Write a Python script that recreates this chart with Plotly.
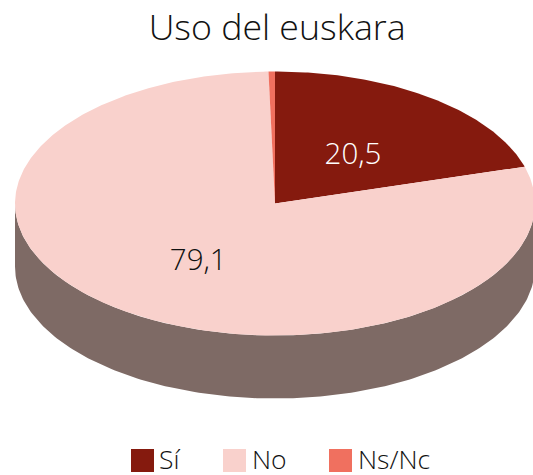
import numpy as np
import plotly.graph_objects as go

title = "Uso del euskara"
categories = ["Sí", "No", "Ns/Nc"]
values = [20.5, 79.1, 0.4]
labels = ["20,5", "79,1", None]
colors = ["#851A0E", "#F9D1CC", "#F0705F"]
wall_color = "#7E6A65"
FONT = "Open Sans"
INK = "#111111"

W, H = 533, 475
# one axis unit is one pixel; the pie is a tilted circle
cx, cy, rx, ry, depth = 275, 271.5, 260, 132, 63

fig = go.Figure()

# side wall
t = np.linspace(np.pi / 2, 3 * np.pi / 2, 181)
xs = np.sin(t)
ys = np.cos(t)
wall_x = np.r_[cx + rx * xs, (cx + rx * xs)[::-1]]
wall_y = np.r_[cy + ry * ys, (cy + ry * ys - depth)[::-1]]
fig.add_trace(go.Scatter(x=wall_x, y=wall_y, fill="toself", mode="lines", line=dict(width=0),
                         fillcolor=wall_color, hoverinfo="skip", showlegend=False))

# slices, clockwise from twelve o'clock
total = sum(values)
start = 0.0
for name, v, c in zip(categories, values, colors):
    end = start + v / total * 2 * np.pi
    a = np.linspace(start, end, max(3, int(v * 6)))
    fig.add_trace(go.Scatter(x=np.r_[cx, cx + rx * np.sin(a), cx],
                             y=np.r_[cy, cy + ry * np.cos(a), cy],
                             fill="toself", mode="lines", line=dict(width=0), fillcolor=c,
                             name=name, showlegend=False))
    start = end

# value labels
start = 0.0
lx, ly, lt = [], [], []
for v, lab in zip(values, labels):
    mid = start + v / total * np.pi
    start += v / total * 2 * np.pi
    if lab:
        lx.append(cx + 0.5 * rx * np.sin(mid))
        ly.append(cy + 0.5 * ry * np.cos(mid) - 6)
        lt.append(lab)
fig.add_trace(go.Scatter(x=lx[:1], y=ly[:1], text=lt[:1], mode="text", showlegend=False,
                         textfont=dict(family=FONT, size=29.5, weight=300, color="#FFFFFF")))
fig.add_trace(go.Scatter(x=lx[1:], y=ly[1:], text=lt[1:], mode="text", showlegend=False,
                         textfont=dict(family=FONT, size=29.5, weight=300, color=INK)))

# legend drawn on the axes so the swatches keep their size
leg_x = [142.5, 234.5, 340.5]
leg_text_x = [159, 252, 358]
leg_y = [14.5] * 3
fig.add_trace(go.Scatter(x=leg_x, y=leg_y, mode="markers", showlegend=False,
                         marker=dict(symbol="square", size=23, color=colors, line=dict(width=0))))
fig.add_trace(go.Scatter(x=leg_text_x, y=[v - 2 for v in leg_y], mode="text", showlegend=False,
                         text=categories, textposition="middle right",
                         textfont=dict(family=FONT, size=26.5, weight=300, color=INK)))

fig.update_layout(
    width=W, height=H, margin=dict(l=0, r=0, t=0, b=0),
    paper_bgcolor="white", plot_bgcolor="white",
    title=dict(text=title, x=0.52, xanchor="center", y=0.942, yanchor="middle",
               font=dict(family=FONT, size=35.7, weight=300, color=INK)),
    xaxis=dict(range=[0, W], visible=False, fixedrange=True),
    yaxis=dict(range=[0, H], visible=False, fixedrange=True),
)
fig.write_html("out.html", config=dict(displayModeBar=False),
               post_script="document.body.style.margin='0';document.body.style.overflow='hidden';")
